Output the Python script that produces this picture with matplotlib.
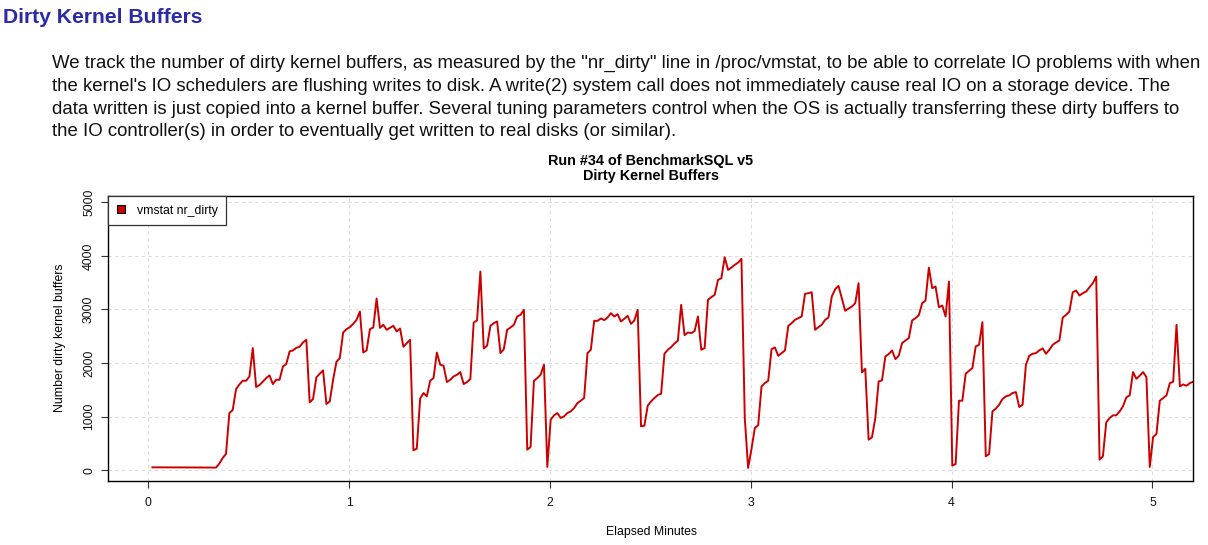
"""
Dirty Kernel Buffers 图 (BenchmarkSQL run #34) 重绘脚本
vmstat nr_dirty 每秒采样一次，横轴为经过的分钟数。
输出：out.png
"""

import numpy as np
import matplotlib
matplotlib.use("Agg")
import matplotlib.pyplot as plt
from matplotlib.patches import Patch

W, H = 1208, 545

HEADING = "Dirty Kernel Buffers"
PARAGRAPH = [
    'We track the number of dirty kernel buffers, as measured by the "nr_dirty" line in /proc/vmstat, to be able to correlate IO problems with when',
    "the kernel's IO schedulers are flushing writes to disk. A write(2) system call does not immediately cause real IO on a storage device. The",
    "data written is just copied into a kernel buffer. Several tuning parameters control when the OS is actually transferring these dirty buffers to",
    "the IO controller(s) in order to eventually get written to real disks (or similar).",
]
TITLE_LINES = ["Run #34 of BenchmarkSQL v5", "Dirty Kernel Buffers"]
SERIES_LABEL = "vmstat nr_dirty"

# 采样：第一个点约在 1.2 s，之后每 1 s 一个
SAMPLE_START_SEC = 1.2
SAMPLE_STEP_SEC = 1.0

nr_dirty = [
    55, 55, 55, 55, 54, 54, 54, 54, 53, 53, 53, 53, 52, 52, 52, 52, 51, 51, 51, 50,
    124, 230, 304, 1068, 1124, 1515, 1602, 1670, 1670, 1751, 2279, 1553, 1590, 1652,
    1720, 1770, 1608, 1689, 1689, 1937, 1981, 2217, 2236, 2285, 2304, 2385, 2434,
    1267, 1329, 1733, 1801, 1863, 1236, 1285, 1689, 2024, 2093,
    2571, 2633, 2670, 2732, 2807, 2962, 2198, 2236, 2633, 2664, 3204, 2658, 2714,
    2621, 2658, 2695, 2590, 2645, 2304, 2372, 2434, 373, 404, 1335, 1441, 1379,
    1670, 1720, 2198, 1969, 1950, 1646, 1689, 1751, 1782, 1832, 1608, 1646, 1702,
    2757, 2795, 3707, 2273, 2323, 2695, 2745, 2776, 2186, 2260, 2621, 2664, 2714,
    2869, 2900, 2993, 385, 435,
    1670, 1720, 1782, 1969, 62, 944, 1025, 1068, 975, 1006, 1068, 1099, 1161, 1254,
    1298, 1348, 2186, 2248, 2788, 2788, 2832, 2801, 2850, 2931, 2869, 2912, 2776,
    2826, 2881, 2732, 2795, 2993, 820, 832, 1205, 1285, 1348, 1403, 1428, 2174,
    2248, 2298, 2366, 2416, 3086, 2521, 2571, 2559, 2596, 2869, 2248, 2279, 3180,
    3229, 3273, 3552, 3583,
    3974, 3738, 3782, 3832, 3875, 3943, 975, 43, 397, 789, 838, 1565, 1627, 1670,
    2260, 2291, 2136, 2186, 2236, 2695, 2745, 2807, 2838, 2869, 3291, 3304, 3322,
    2621, 2670, 2714, 2807, 2850, 3242, 3378, 3440, 3211, 2975, 3018, 3055, 3117,
    3490, 1826, 1894, 571, 615, 975, 1658, 1677, 2124, 2167, 2236, 2074, 2136,
    2372, 2422, 2465,
    2795, 2838, 2894, 3117, 3167, 3782, 3397, 3428, 3043, 3074, 2869, 3521, 87,
    118, 1298, 1298, 1801, 1857, 1906, 2310, 2341, 2763, 261, 304, 1099, 1149,
    1223, 1329, 1379, 1397, 1441, 1459, 1180, 1223, 1969, 2136, 2174, 2186, 2236,
    2273, 2174, 2248, 2341, 2385, 2422, 2850, 2900, 2962, 3322, 3353, 3260, 3304,
    3335, 3416, 3490, 3614, 199,
    261, 894, 975, 1025, 1025, 1099, 1192, 1360, 1397, 1832, 1708, 1764, 1832,
    1739, 62, 621, 677, 1298, 1348, 1397, 1627, 1652, 2714, 1565, 1602, 1577,
    1627, 1652,
]

x_ticks = [0, 1, 2, 3, 4, 5]
y_ticks = [0, 1000, 2000, 3000, 4000, 5000]

LINE_COLOR = "#cc0000"
HEAD_COLOR = "#2b2ba6"
GRID_COLOR = "#dcdcdc"
FS = 8.8  # 图内普通文字字号


def px(x, y):
    """像素坐标 -> figure 坐标."""
    return x / W, 1 - y / H


if __name__ == "__main__":
    plt.rcParams['font.family'] = ['Liberation Sans', 'DejaVu Sans']

    minutes = (SAMPLE_START_SEC + SAMPLE_STEP_SEC * np.arange(len(nr_dirty))) / 60.0

    fig = plt.figure(figsize=(W / 100, H / 100), dpi=100)
    fig.patch.set_facecolor("white")

    # 页面标题与说明文字
    fig.text(*px(3, 23), HEADING, fontsize=15.2, fontweight="bold",
             color=HEAD_COLOR, ha="left", va="baseline")
    for k, line in enumerate(PARAGRAPH):
        fig.text(*px(52, 68 + 22.8 * k), line, fontsize=13.42,
                 color="#111111", ha="left", va="baseline")

    ax = fig.add_axes([108 / W, 1 - 481 / H, (1193 - 108) / W, (481 - 196) / H])

    ax.plot(minutes, nr_dirty, color=LINE_COLOR, linewidth=1.4, label=SERIES_LABEL)

    ax.set_xlim(-0.201, 5.202)
    ax.set_ylim(-200, 5117)
    ax.set_xticks(x_ticks)
    ax.set_yticks(y_ticks)
    ax.set_xticklabels([str(v) for v in x_ticks])
    ax.set_yticklabels([str(v) for v in y_ticks])

    ax.grid(True, color=GRID_COLOR, linestyle=(0, (3, 3)), linewidth=0.8)
    ax.set_axisbelow(True)

    for s in ax.spines.values():
        s.set_linewidth(1.0)
        s.set_color("black")

    ax.tick_params(axis="both", direction="out", length=4.8, width=0.8,
                   color="#333333", labelsize=FS, labelcolor="#111111")
    ax.tick_params(axis="x", pad=6.5)
    ax.tick_params(axis="y", pad=4.5, labelrotation=90)
    for lab in ax.get_yticklabels():
        lab.set_va("center")

    # 图标题（两行）
    for k, t in enumerate(TITLE_LINES):
        fig.text(*px(651, 161 + 14.6 * k), t, fontsize=10.4, fontweight="bold",
                 ha="center", va="center")
    fig.text(*px(651, 532), "Elapsed Minutes", fontsize=FS, ha="center", va="center")
    fig.text(*px(60, 338), "Number dirty kernel buffers", fontsize=FS,
             rotation=90, ha="center", va="center")

    handle = Patch(facecolor=LINE_COLOR, edgecolor="black", linewidth=0.8)
    leg = ax.legend([handle], [SERIES_LABEL], loc="upper left", borderaxespad=0,
                    fancybox=False, framealpha=1, edgecolor="#333333",
                    fontsize=FS, handlelength=0.7, handleheight=0.6,
                    handletextpad=0.95, borderpad=0.7)
    leg.get_frame().set_linewidth(0.9)

    plt.savefig("out.png", dpi=100)
